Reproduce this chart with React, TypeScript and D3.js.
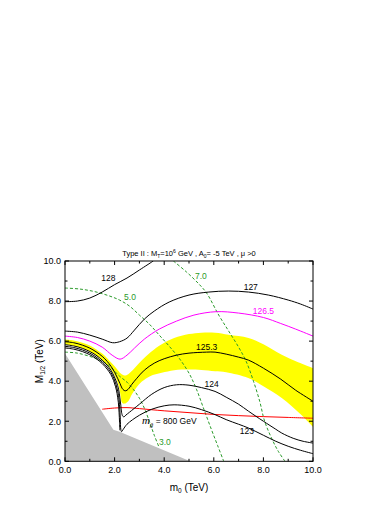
import React from 'react';
import * as d3 from 'd3';

type Pt = [number, number];

// axis ticks (TeV)
const xMajor = [0, 2, 4, 6, 8, 10];
const yMajor = [0, 2, 4, 6, 8, 10];
const minor = [1, 3, 5, 7, 9];

// excluded region (grey)
const excluded: Pt[] = [[0, 0], [0, 5.38], [1.95, 1.58], [2.2, 1.48], [5.05, 0]];

// Higgs mass band around 125.3 GeV
const bandUpper: Pt[] = [
  [0, 6.08], [0.35, 6.03], [0.7, 5.92], [1.0, 5.78], [1.25, 5.6], [1.5, 5.38], [1.7, 5.15],
  [1.9, 4.88], [2.1, 4.6], [2.25, 4.38], [2.4, 4.28], [2.55, 4.35], [2.8, 4.65], [3.1, 5.05],
  [3.45, 5.45], [3.9, 5.85], [4.4, 6.15], [5.0, 6.35], [5.5, 6.42], [6.05, 6.42], [6.6, 6.32],
  [7.4, 6.16], [8.0, 5.85], [8.74, 5.32], [9.4, 4.95], [10, 4.66],
];
const bandLower: Pt[] = [
  [10, 1.72], [9.5, 2.35], [8.74, 3.16], [8.0, 3.75], [7.39, 4.16], [6.5, 4.45], [6.05, 4.5],
  [5.5, 4.56], [5.0, 4.58], [4.4, 4.55], [3.9, 4.42], [3.43, 4.25], [3.1, 3.98], [2.89, 3.7],
  [2.7, 3.35], [2.55, 3.0], [2.4, 2.88], [2.3, 2.92], [2.25, 3.2], [2.2, 3.6], [2.12, 3.95],
  [2.0, 4.3], [1.85, 4.6], [1.65, 4.88], [1.45, 5.1], [1.2, 5.33], [0.9, 5.55], [0.5, 5.72], [0, 5.84],
];

// Higgs mass contours
const mh128: Pt[] = [[0, 7.97], [0.5, 8.0], [1.0, 8.15], [1.5, 8.45], [2.0, 8.82], [2.5, 9.15], [3.0, 9.55], [3.56, 10]];
const mh127: Pt[] = [
  [0, 6.5], [0.5, 6.45], [1.0, 6.3], [1.5, 6.1], [1.92, 5.92], [2.2, 5.97], [2.5, 6.15], [2.8, 6.55],
  [3.2, 7.1], [3.6, 7.5], [4.2, 7.95], [5.0, 8.3], [5.8, 8.45], [6.6, 8.5], [7.4, 8.45], [8.2, 8.3],
  [9.0, 8.05], [9.5, 7.85], [10, 7.6],
];
const mh1265: Pt[] = [
  [0, 6.25], [0.5, 6.18], [1.0, 6.0], [1.5, 5.7], [1.9, 5.3], [2.22, 5.1], [2.5, 5.3], [2.8, 5.65],
  [3.2, 6.1], [3.8, 6.6], [4.5, 7.0], [5.2, 7.3], [6.1, 7.47], [7.0, 7.4], [8.0, 7.18], [8.7, 6.88],
  [9.3, 6.6], [10, 6.25],
];
const mh1253: Pt[] = [
  [0, 5.97], [0.35, 5.92], [0.7, 5.8], [1.0, 5.65], [1.25, 5.47], [1.5, 5.24], [1.7, 4.99], [1.85, 4.75],
  [2.0, 4.45], [2.12, 4.15], [2.22, 3.88], [2.3, 3.65], [2.38, 3.54], [2.45, 3.52], [2.55, 3.6],
  [2.7, 3.85], [2.9, 4.15], [3.2, 4.55], [3.6, 4.9], [4.0, 5.12], [4.5, 5.3], [5.0, 5.4], [5.7, 5.45],
  [6.05, 5.45], [6.5, 5.35], [7.0, 5.2], [7.4, 5.05], [8.0, 4.65], [8.7, 4.1], [9.3, 3.55], [10, 3.0],
];
const mh124: Pt[] = [
  [0, 5.82], [0.35, 5.76], [0.7, 5.64], [1.0, 5.48], [1.25, 5.3], [1.5, 5.05], [1.7, 4.8], [1.85, 4.55],
  [1.98, 4.25], [2.08, 3.95], [2.16, 3.6], [2.21, 3.2], [2.25, 2.8], [2.28, 2.45], [2.33, 2.25],
  [2.38, 2.22], [2.45, 2.3], [2.6, 2.45], [3.0, 2.85], [3.5, 3.35], [4.0, 3.68], [4.5, 3.82], [5.0, 3.8],
  [5.5, 3.68], [6.05, 3.49], [6.5, 3.2], [7.0, 2.85], [7.4, 2.5], [8.0, 2.0], [8.5, 1.6], [8.74, 1.41],
  [9.2, 1.15], [9.6, 1.0], [10, 0.91],
];
const mh123: Pt[] = [
  [0, 5.74], [0.35, 5.68], [0.7, 5.56], [1.0, 5.4], [1.25, 5.21], [1.5, 4.96], [1.7, 4.7], [1.85, 4.44],
  [1.97, 4.14], [2.06, 3.83], [2.13, 3.48], [2.18, 3.08], [2.21, 2.6], [2.23, 2.1], [2.25, 1.6],
  [2.28, 1.48], [2.35, 1.6], [2.5, 1.85], [3.0, 2.3], [3.5, 2.6], [4.0, 2.77], [4.4, 2.82], [5.0, 2.75],
  [5.5, 2.58], [6.05, 2.33], [6.5, 2.08], [7.0, 1.85], [7.4, 1.66], [8.0, 1.3], [8.5, 1.0], [9.0, 0.75],
  [9.5, 0.55], [10, 0.38],
];
const mhInner: Pt[] = [
  [0, 5.66], [0.35, 5.6], [0.7, 5.48], [1.0, 5.32], [1.25, 5.13], [1.5, 4.88], [1.7, 4.6], [1.85, 4.33],
  [1.96, 4.03], [2.04, 3.72], [2.1, 3.38], [2.15, 2.95], [2.18, 2.45], [2.2, 1.95], [2.21, 1.55],
];

// gluino mass contours (TeV), dashed
const mg30: Pt[] = [
  [0, 5.45], [0.5, 5.4], [1.2, 5.15], [1.7, 4.85], [2.2, 4.25], [2.5, 3.95], [2.75, 3.6], [3.0, 3.15],
  [3.2, 2.65], [3.4, 2.0], [3.6, 1.3], [3.8, 0.68],
];
const mg50: Pt[] = [
  [0, 8.65], [0.6, 8.6], [1.2, 8.47], [1.8, 8.25], [2.2, 8.05], [2.6, 7.75], [3.0, 7.3], [3.4, 6.85],
  [3.8, 6.3], [4.2, 5.75], [4.6, 5.15], [5.0, 4.4], [5.3, 3.6], [5.6, 2.6], [5.9, 1.6], [6.15, 0.8], [6.4, 0],
];
const mg70: Pt[] = [
  [4.37, 10], [4.9, 9.45], [5.4, 8.85], [5.71, 8.4], [6.2, 7.3], [6.6, 6.5], [7.0, 5.7], [7.3, 5.0],
  [7.6, 4.0], [7.85, 3.0], [8.05, 2.0], [8.35, 1.1], [8.6, 0.5], [8.87, 0],
];

// light gluino mass contour, 800 GeV
const mgl800: Pt[] = [
  [1.5, 2.6], [2.0, 2.66], [2.5, 2.68], [3.0, 2.63], [4.0, 2.52], [5.0, 2.43], [6.0, 2.34],
  [7.0, 2.28], [8.0, 2.23], [9.0, 2.19], [10, 2.15],
];

const GREEN = '#2a9a2a';
const FONT = '"Liberation Sans", Arial, sans-serif';

export default function App() {
  const x = d3.scaleLinear().domain([0, 10]).range([65, 313]);
  const y = d3.scaleLinear().domain([0, 10]).range([461.3, 261]);
  const line = d3.line<Pt>().x(d => x(d[0])).y(d => y(d[1])).curve(d3.curveCatmullRom.alpha(0.5));
  const poly = d3.line<Pt>().x(d => x(d[0])).y(d => y(d[1]));
  const bandLine = d3.line<Pt>().x(d => x(d[0])).y(d => y(d[1])).curve(d3.curveCatmullRom.alpha(0.5));

  const [x0, x1] = x.range();
  const [y0, y1] = y.range();

  return (
    <svg width={392} height={508} style={{ position: 'absolute', left: 0, top: 0 }} fontFamily={FONT}>
      <defs>
        <clipPath id="plot">
          <rect x={x0} y={y1} width={x1 - x0} height={y0 - y1} />
        </clipPath>
      </defs>
      <rect width={392} height={508} fill="#fff" />

      <g clipPath="url(#plot)">
        <path d={poly(excluded) + 'Z'} fill="#c0c0c0" />
        <path d={bandLine(bandUpper)! + 'L' + bandLine(bandLower)!.slice(1) + 'Z'} fill="#ffff00" />

        {[mg30, mg50, mg70].map((d, i) => (
          <path key={'g' + i} d={line(d)!} fill="none" stroke={GREEN} strokeWidth={1} strokeDasharray="3,2" />
        ))}
        <path d={line(mgl800)!} fill="none" stroke="#ff0000" strokeWidth={1} />
        <path d={line(mh1265)!} fill="none" stroke="#ff00ff" strokeWidth={1} />
        {[mh128, mh127, mh1253, mh124, mh123, mhInner].map((d, i) => (
          <path key={'h' + i} d={line(d)!} fill="none" stroke="#000" strokeWidth={1} />
        ))}
      </g>

      {/* frame + ticks */}
      <rect x={x0} y={y1} width={x1 - x0} height={y0 - y1} fill="none" stroke="#000" strokeWidth={1} />
      {xMajor.map(t => (
        <g key={'xt' + t}>
          <line x1={x(t)} x2={x(t)} y1={y0} y2={y0 - 4} stroke="#000" />
          <line x1={x(t)} x2={x(t)} y1={y1} y2={y1 + 4} stroke="#000" />
          <text x={x(t)} y={y0 + 11.5} textAnchor="middle" fontSize={9}>{t.toFixed(1)}</text>
        </g>
      ))}
      {minor.map(t => (
        <g key={'mt' + t}>
          <line x1={x(t)} x2={x(t)} y1={y0} y2={y0 - 2.5} stroke="#000" />
          <line x1={x(t)} x2={x(t)} y1={y1} y2={y1 + 2.5} stroke="#000" />
          <line x1={x0} x2={x0 + 2.5} y1={y(t)} y2={y(t)} stroke="#000" />
          <line x1={x1} x2={x1 - 2.5} y1={y(t)} y2={y(t)} stroke="#000" />
        </g>
      ))}
      {yMajor.map(t => (
        <g key={'yt' + t}>
          <line x1={x0} x2={x0 + 4} y1={y(t)} y2={y(t)} stroke="#000" />
          <line x1={x1} x2={x1 - 4} y1={y(t)} y2={y(t)} stroke="#000" />
          <text x={x0 - 4} y={y(t) + 3.3} textAnchor="end" fontSize={9}>{t.toFixed(1)}</text>
        </g>
      ))}

      {/* axis titles */}
      <text x={(x0 + x1) / 2} y={491} textAnchor="middle" fontSize={10}>
        m<tspan fontSize={6.5} dy={2}>0</tspan><tspan dy={-2}> (TeV)</tspan>
      </text>
      <text transform={`translate(43,${(y0 + y1) / 2}) rotate(-90)`} textAnchor="middle" fontSize={10}>
        M<tspan fontSize={6.5} dy={2}>1/2</tspan><tspan dy={-2}> (TeV)</tspan>
      </text>

      {/* title */}
      <text x={(x0 + x1) / 2} y={256} textAnchor="middle" fontSize={7.5}>
        Type II : M<tspan fontSize={5} dy={1.5}>T</tspan><tspan dy={-1.5}>=10</tspan>
        <tspan fontSize={5} dy={-3}>6</tspan><tspan dy={3}> GeV , A</tspan>
        <tspan fontSize={5} dy={1.5}>0</tspan><tspan dy={-1.5}>= -5 TeV , μ &gt;0</tspan>
      </text>

      {/* contour labels */}
      <g fontSize={8.5}>
        <text x={x(1.75)} y={y(9.15) + 3} textAnchor="middle">128</text>
        <text x={x(7.49)} y={y(8.72) + 3} textAnchor="middle">127</text>
        <text x={x(8.0)} y={y(7.52) + 3} textAnchor="middle" fill="#ff00ff">126.5</text>
        <text x={x(5.71)} y={y(5.72) + 3} textAnchor="middle">125.3</text>
        <text x={x(5.91)} y={y(3.87) + 3} textAnchor="middle">124</text>
        <text x={x(7.33)} y={y(1.53) + 3} textAnchor="middle">123</text>
        <text x={x(5.48)} y={y(9.25) + 3} textAnchor="middle" fill={GREEN}>7.0</text>
        <text x={x(2.62)} y={y(8.22) + 3} textAnchor="middle" fill={GREEN}>5.0</text>
        <text x={x(4.03)} y={y(0.98) + 3} textAnchor="middle" fill={GREEN}>3.0</text>
        <text x={x(3.1)} y={y(2.0) + 3}>
          <tspan fontFamily='"Liberation Serif", serif' fontStyle="italic" fontSize={11}>m</tspan>
          <tspan fontFamily='"Liberation Serif", serif' fontStyle="italic" fontSize={7} dy={2.5}>g̃</tspan>
          <tspan dy={-2.5}> = 800 GeV</tspan>
        </text>
      </g>
    </svg>
  );
}
